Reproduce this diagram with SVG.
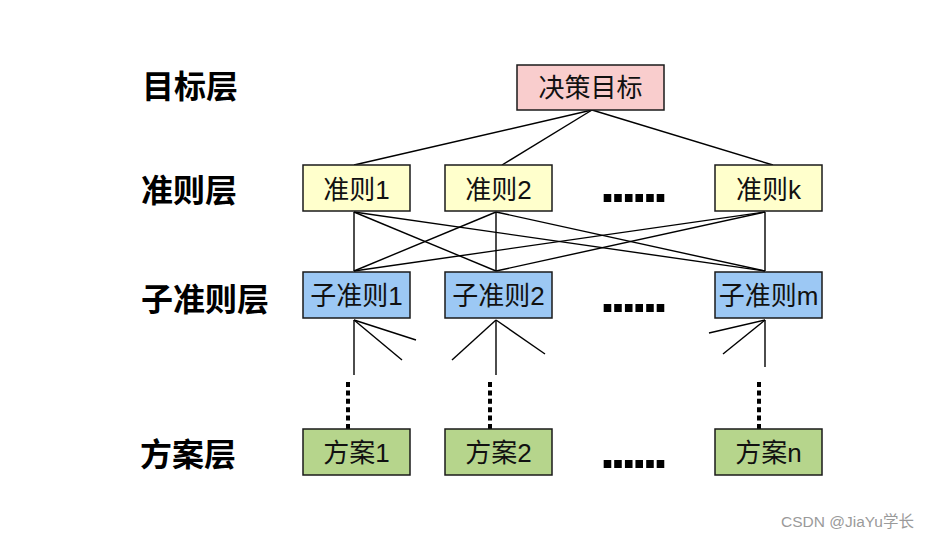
<svg xmlns="http://www.w3.org/2000/svg" width="931" height="539" viewBox="0 0 931 539">
  <style>
    .box { stroke: #1a1a1a; stroke-width: 1.5; }
    .goal { fill: #F9CDCD; }
    .crit { fill: #FFFFCC; }
    .sub { fill: #9CC8F4; }
    .alt { fill: #B6D58C; }
    .bt { font-family: "Liberation Sans", "Noto Sans CJK SC", sans-serif; font-size: 26px; fill: #111; text-anchor: middle; dominant-baseline: central; }
    .lab { font-family: "Noto Sans CJK SC", sans-serif; font-weight: bold; font-size: 32px; fill: #000; dominant-baseline: central; }
    .ell { font-family: "Liberation Sans", sans-serif; font-weight: bold; font-size: 54px; letter-spacing: -4.4px; fill: #000; }
    .ln { stroke: #000; stroke-width: 1.4; fill: none; }
    .dot { stroke: #000; stroke-width: 4; stroke-dasharray: 5 3.4; fill: none; }
    .wm { font-family: "Liberation Sans", "Noto Sans CJK SC", sans-serif; font-size: 15.5px; fill: #9a9a9a; }
  </style>

  <g id="labels">
    <text class="lab" x="142" y="84">目标层</text>
    <text class="lab" x="141" y="188">准则层</text>
    <text class="lab" x="141" y="297">子准则层</text>
    <text class="lab" x="140" y="452">方案层</text>
  </g>

  <g id="connectors">
    <line class="ln" x1="592" y1="110" x2="354" y2="165"/>
    <line class="ln" x1="592" y1="110" x2="502" y2="165"/>
    <line class="ln" x1="592" y1="110" x2="773" y2="165"/>

    <line class="ln" x1="354" y1="212" x2="354" y2="271"/>
    <line class="ln" x1="354" y1="212" x2="496" y2="271"/>
    <line class="ln" x1="354" y1="212" x2="765" y2="271"/>
    <line class="ln" x1="496" y1="212" x2="354" y2="271"/>
    <line class="ln" x1="496" y1="212" x2="496" y2="271"/>
    <line class="ln" x1="496" y1="212" x2="765" y2="271"/>
    <line class="ln" x1="765" y1="212" x2="354" y2="271"/>
    <line class="ln" x1="765" y1="212" x2="496" y2="271"/>
    <line class="ln" x1="765" y1="212" x2="765" y2="271"/>

    <line class="ln" x1="354" y1="320" x2="354" y2="375"/>
    <line class="ln" x1="354" y1="320" x2="416" y2="340"/>
    <line class="ln" x1="354" y1="320" x2="402" y2="360"/>
    <line class="ln" x1="496" y1="320" x2="496" y2="375"/>
    <line class="ln" x1="496" y1="320" x2="452" y2="360"/>
    <line class="ln" x1="496" y1="320" x2="545" y2="354"/>
    <line class="ln" x1="765" y1="320" x2="765" y2="367"/>
    <line class="ln" x1="765" y1="320" x2="709" y2="333"/>
    <line class="ln" x1="765" y1="320" x2="723" y2="354"/>

    <line class="dot" x1="348" y1="382" x2="348" y2="429"/>
    <line class="dot" x1="490" y1="382" x2="490" y2="429"/>
    <line class="dot" x1="759" y1="382" x2="759" y2="429"/>
  </g>

  <g id="node-goal">
    <rect class="box goal" x="517" y="65" width="147" height="45"/>
    <text class="bt" x="590.5" y="88">决策目标</text>
  </g>

  <g id="node-c1">
    <rect class="box crit" x="303" y="165" width="107" height="46"/>
    <text class="bt" x="356.5" y="190">准则1</text>
  </g>
  <g id="node-c2">
    <rect class="box crit" x="445" y="165" width="107" height="46"/>
    <text class="bt" x="498.5" y="190">准则2</text>
  </g>
  <g id="node-ck">
    <rect class="box crit" x="715" y="165" width="107" height="46"/>
    <text class="bt" x="768.5" y="190">准则k</text>
  </g>

  <g id="node-s1">
    <rect class="box sub" x="303" y="272" width="107" height="46"/>
    <text class="bt" x="356.5" y="296">子准则1</text>
  </g>
  <g id="node-s2">
    <rect class="box sub" x="445" y="272" width="107" height="46"/>
    <text class="bt" x="498.5" y="296">子准则2</text>
  </g>
  <g id="node-sm">
    <rect class="box sub" x="715" y="272" width="107" height="46"/>
    <text class="bt" x="768.5" y="296">子准则m</text>
  </g>

  <g id="node-a1">
    <rect class="box alt" x="303" y="429" width="107" height="46"/>
    <text class="bt" x="356.5" y="453">方案1</text>
  </g>
  <g id="node-a2">
    <rect class="box alt" x="445" y="429" width="107" height="46"/>
    <text class="bt" x="498.5" y="453">方案2</text>
  </g>
  <g id="node-an">
    <rect class="box alt" x="715" y="429" width="107" height="46"/>
    <text class="bt" x="768.5" y="453">方案n</text>
  </g>

  <g id="ellipses">
    <text class="ell" x="600" y="202">......</text>
    <text class="ell" x="600" y="312">......</text>
    <text class="ell" x="600" y="468">......</text>
  </g>

  <text class="wm" x="781" y="527">CSDN @JiaYu学长</text>
</svg>
